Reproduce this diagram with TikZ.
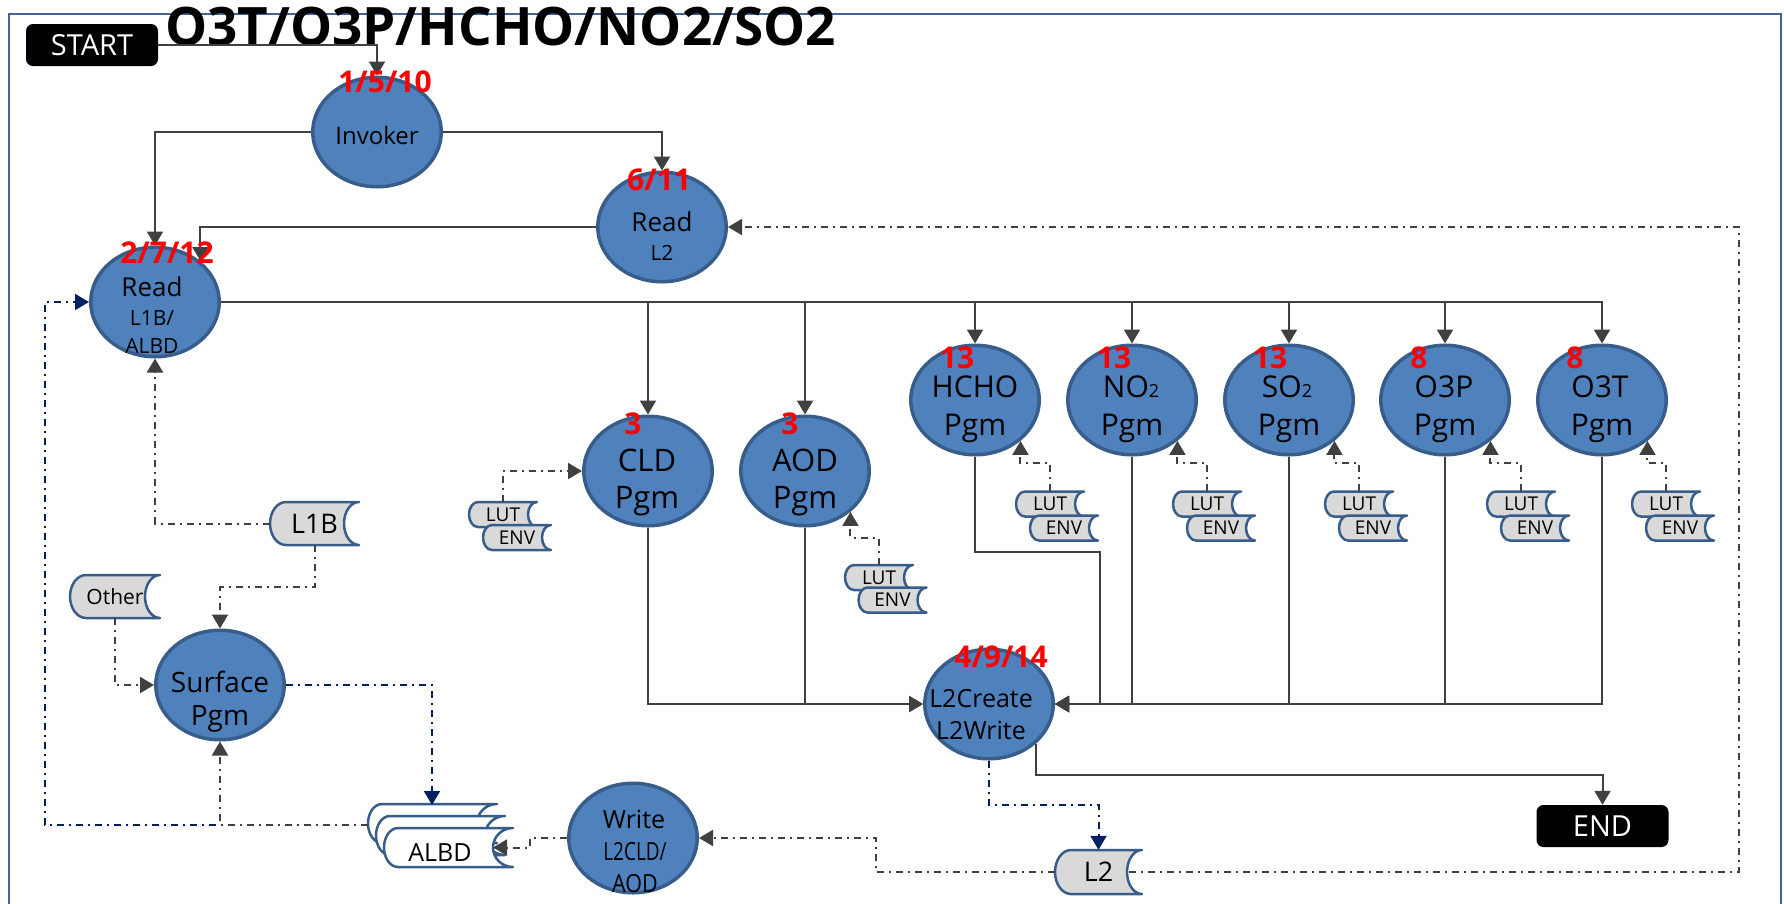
\documentclass[tikz,border=0pt]{standalone}
\usepackage{fontspec}
\setmainfont{Open Sans}
\usepackage{graphicx}
\usetikzlibrary{shapes.geometric,arrows.meta}
\definecolor{cblue}{HTML}{4F81BD}
\definecolor{cbord}{HTML}{385D8A}
\definecolor{cgray}{HTML}{404040}
\definecolor{cnavy}{HTML}{002060}
\definecolor{cframe}{HTML}{41659A}
\definecolor{csd}{HTML}{D9D9D9}
% stored-data shape: cx, cy, w, h, left bulge, right notch, fill
\newcommand\sdshape[7]{%
  \pgfmathsetmacro\sdxa{#1-#3/2}%
  \pgfmathsetmacro\sdxb{#1+#3/2}%
  \pgfmathsetmacro\sdya{#2-#4/2}%
  \pgfmathsetmacro\sdyb{#2+#4/2}%
  \pgfmathsetmacro\sdkl{0.5523*#5}%
  \pgfmathsetmacro\sdkr{0.5523*#6}%
  \pgfmathsetmacro\sdkb{0.5523*#4/2}%
  \draw[draw=cbord, line width=2.5pt, fill=#7, line join=round]
    (\sdxa+#5,\sdya) -- (\sdxb,\sdya)
    .. controls (\sdxb-\sdkr,\sdya) and (\sdxb-#6,#2-\sdkb) .. (\sdxb-#6,#2)
    .. controls (\sdxb-#6,#2+\sdkb) and (\sdxb-\sdkr,\sdyb) .. (\sdxb,\sdyb)
    -- (\sdxa+#5,\sdyb)
    .. controls (\sdxa+#5-\sdkl,\sdyb) and (\sdxa,#2+\sdkb) .. (\sdxa,#2)
    .. controls (\sdxa,#2-\sdkb) and (\sdxa+#5-\sdkl,\sdya) .. cycle;}
\newcommand\ctext[5]{\node[anchor=base, inner sep=0pt, font=\fontsize{#4}{#4}\selectfont] (#1) at (#2,#3) {#5};}
\begin{document}
\begin{tikzpicture}[x=1pt,y=-1pt,
  proc/.style={ellipse, draw=cbord, fill=cblue, line width=3.5pt, minimum width=128.5pt, minimum height=109.5pt, inner sep=0pt},
  term/.style={rounded corners=7pt, fill=black, text=white, minimum width=132pt, minimum height=42pt, inner sep=0pt, font=\fontsize{29}{29}\selectfont},
  flow/.style={draw=cgray, line width=2pt, -{Triangle[length=14pt,width=16pt]}},
  dflow/.style={flow, dash pattern=on 7pt off 5pt on 2pt off 5pt},
  nflow/.style={dflow, draw=cnavy},
  num/.style={anchor=base, inner sep=0pt, text=red, font=\bfseries\fontsize{30}{30}\selectfont},
  sdn/.style={inner sep=0pt, font=\fontsize{#1}{#1}\selectfont},
  sdn/.default=19
]
\useasboundingbox (0,0) rectangle (1784,903);
% frame and title
\draw[cframe, line width=2.5pt] (9,910) -- (9,14) -- (1781,14) -- (1781,910);
\node[anchor=base west, inner sep=0pt, font=\bfseries\fontsize{53}{53}\selectfont] (title) at (165,45) {O3T/O3P/HCHO/NO2/SO2};
% process circles
\node[proc] (inv) at (377,132) {};
\node[proc] (rl2) at (662,227) {};
\node[proc] (rl1b) at (155,302) {};
\node[proc] (cld) at (648,471) {};
\node[proc] (aod) at (805,471) {};
\node[proc] (hcho) at (975,400) {};
\node[proc] (no2) at (1132,400) {};
\node[proc] (so2) at (1289,400) {};
\node[proc] (o3p) at (1445,400) {};
\node[proc] (o3t) at (1602,400) {};
\node[proc] (l2c) at (989,704) {};
\node[proc] (surf) at (220,685) {};
\node[proc] (wr) at (633,838) {};
% terminals
\node[term] (start) at (92,45) {START};
\node[term] (endn) at (1602.5,826) {END};
% stored data
\sdshape{314.5}{523.5}{89}{43}{16}{15}{csd}
\node[sdn=27, minimum width=89pt, minimum height=43pt] (l1b) at (314.5,523.5) {L1B};
\sdshape{115}{596.5}{90}{43}{16}{15}{csd}
\node[sdn=21, minimum width=90pt, minimum height=43pt] (oth) at (115,596.5) {Other};
\sdshape{1098.5}{872}{87}{44}{16}{15}{csd}
\node[sdn=27, minimum width=87pt, minimum height=44pt] (l2) at (1098.5,872) {L2};
\sdshape{432.5}{823.5}{129}{39}{14}{20}{white}
\sdshape{440.5}{835.5}{129}{39}{14}{20}{white}
\sdshape{448.5}{847.5}{129}{39}{14}{20}{white}
\node[sdn, minimum width=129pt, minimum height=39pt] (albd) at (448.5,847.5) {};
\node[sdn=25] (albdt) at (440,853) {ALBD};
\coordinate (albdtop) at (432,805);
\coordinate (albdleft) at (368,825);
\coordinate (albdin) at (493,847.5);
% LUT / ENV pairs
\foreach \n/\lx/\ly/\ex/\ey in {c/503/514.5/517/537.5, a/879/577.5/892.5/600, h/1050/504/1064/528, n/1207/504/1221/528, s/1359/504/1373/528, p/1521/504/1535/528, t/1666/504/1680/528}{
  \sdshape{\lx}{\ly}{68}{25}{9}{9}{csd}
  \node[sdn, minimum width=68pt, minimum height=25pt] (lut\n) at (\lx,\ly) {LUT};
  \sdshape{\ex}{\ey}{68}{25}{9}{9}{csd}
  \node[sdn, minimum width=68pt, minimum height=25pt] (env\n) at (\ex,\ey) {ENV};
}
% connectors
\draw[flow] (start.east) -| (inv.north);
\draw[flow] (inv.west) -| (rl1b.north);
\draw[flow] (inv.east) -| (rl2.north);
\draw[flow] (rl2.west) -| (rl1b.42);
\foreach \t in {cld,aod,hcho,no2,so2,o3p,o3t} \draw[flow] (rl1b.east) -| (\t.north);
\draw[flow] (cld.south) |- (l2c.west);
\draw[flow] (aod.south) |- (l2c.west);
\draw[flow] (hcho.south) |- (1100,552) |- (l2c.east);
\foreach \t in {no2,so2,o3p,o3t} \draw[flow] (\t.south) |- (l2c.east);
\draw[flow] (l2c.-40) -- ++(0,31) -| (endn.north);
\draw[nflow] (l2c.south) -- ++(0,44) -| (l2.north);
\draw[dflow] (l2.west) -- (876,872) |- (wr.east);
\draw[dflow] ([xshift=-13pt]l2.east) -- (1739,872) |- (rl2.east);
\draw[dflow] (wr.west) -- (530,838) |- (albdin);
\draw[nflow] (surf.east) -| (albdtop);
\draw[nflow] (albdleft) -- (45,825) |- (rl1b.west);
\draw[dflow] (albdleft) -| (surf.south);
\draw[dflow] (l1b.west) -| (rl1b.south);
\draw[dflow] (l1b.south) -- ++(0,42) -| (surf.north);
\draw[dflow] (oth.south) |- (surf.west);
\draw[dflow] (lutc.north) |- (cld.west);
\draw[dflow] (luta.north) -- ++(0,-27) -| (aod.-42);
\foreach \l/\p in {luth/hcho, lutn/no2, luts/so2, lutp/o3p, lutt/o3t} \draw[dflow] (\l.north) -- ++(0,-28) -| (\p.-42);
% circle texts
\ctext{tinv}{377}{144}{24}{Invoker}
\ctext{trl2a}{662}{231}{26}{Read}
\ctext{trl2b}{662}{260}{21}{L2}
\ctext{trl1a}{152}{296}{26}{Read}
\ctext{trl1b}{152}{325}{21}{L1B/}
\ctext{trl1c}{152}{353}{21}{ALBD}
\ctext{tclda}{647}{471}{31}{CLD}
\ctext{tcldb}{647}{508}{31}{Pgm}
\ctext{taoda}{805}{471}{31}{AOD}
\ctext{taodb}{805}{508}{31}{Pgm}
\ctext{thcha}{975}{397}{30}{HCHO}
\ctext{thchb}{975}{435}{30}{Pgm}
\ctext{tno2a}{1131}{397}{30}{NO{\fontsize{18}{18}\selectfont 2}}
\ctext{tno2b}{1132}{435}{30}{Pgm}
\ctext{tso2a}{1287}{397}{30}{SO{\fontsize{18}{18}\selectfont 2}}
\ctext{tso2b}{1289}{435}{30}{Pgm}
\ctext{to3pa}{1444}{397}{30}{O3P}
\ctext{to3pb}{1445}{435}{30}{Pgm}
\ctext{to3ta}{1600}{397}{30}{O3T}
\ctext{to3tb}{1602}{435}{30}{Pgm}
\ctext{tl2ca}{981}{707}{25}{L2Create}
\ctext{tl2cb}{981}{739}{25}{L2Write}
\ctext{tsurfa}{220}{692}{28}{Surface}
\ctext{tsurfb}{220}{725}{28}{Pgm}
\ctext{twra}{634}{828}{25}{Write}
\ctext{twrb}{635}{860}{25}{\scalebox{0.76}[1]{L2CLD/}}
\ctext{twrc}{635}{892}{25}{\scalebox{0.86}[1]{AOD}}
% red step numbers
\node[num] (n1) at (385,92) {1/5/10};
\node[num] (n2) at (659,190) {6/11};
\node[num] (n3) at (167,263) {2/7/12};
\node[num] (n4) at (633,434) {3};
\node[num] (n5) at (790,434) {3};
\node[num] (n6) at (957,368) {13};
\node[num] (n7) at (1114,368) {13};
\node[num] (n8) at (1270,368) {13};
\node[num] (n9) at (1419,368) {8};
\node[num] (n10) at (1575,368) {8};
\node[num] (n11) at (1001,667) {4/9/14};
\end{tikzpicture}
\end{document}
